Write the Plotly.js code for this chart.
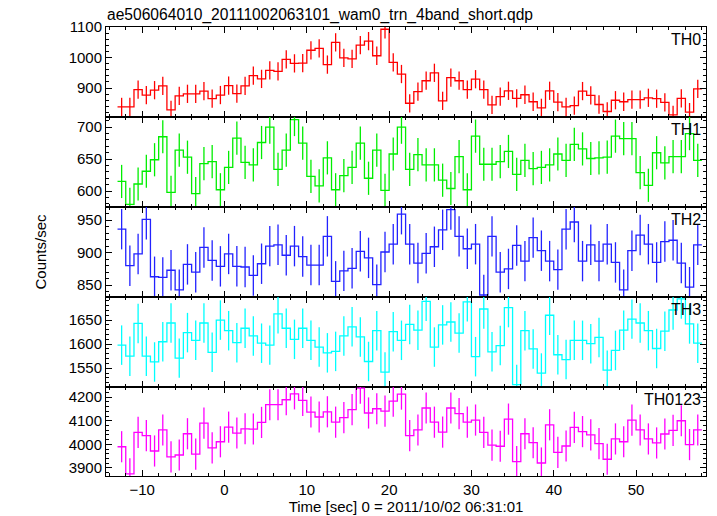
<!DOCTYPE html>
<html>
<head>
<meta charset="utf-8">
<script src="https://cdn.plot.ly/plotly-3.0.1.min.js"></script>
<style>html,body{margin:0;padding:0;background:#fff;}#chart{width:717px;height:516px;}</style>
</head>
<body>
<div id="chart"></div>
<script>
// Bin centres (sec)
const TIME = [-12.5,-11.5,-10.5,-9.5,-8.5,-7.5,-6.5,-5.5,-4.5,-3.5,-2.5,-1.5,-0.5,0.5,1.5,2.5,3.5,4.5,5.5,6.5,7.5,8.5,9.5,10.5,11.5,12.5,13.5,14.5,15.5,16.5,17.5,18.5,19.5,20.5,21.5,22.5,23.5,24.5,25.5,26.5,27.5,28.5,29.5,30.5,31.5,32.5,33.5,34.5,35.5,36.5,37.5,38.5,39.5,40.5,41.5,42.5,43.5,44.5,45.5,46.5,47.5,48.5,49.5,50.5,51.5,52.5,53.5,54.5,55.5,56.5,57.5];
const BIN_HALF = 0.5;

const TH0 = [838,838,895,877,893,907,828,874,881,881,890,865,877,908,882,907,941,930,958,955,994,981,982,1024,1030,977,1050,999,996,1041,1054,1006,1093,984,946,850,
             888,924,950,858,934,924,895,929,895,845,872,891,866,878,855,835,891,854,838,842,890,876,846,823,860,855,862,862,868,865,853,812,866,821,897];
const TH1 = [615,579,611,631,649,685,598,664,653,596,643,646,602,637,683,645,641,676,700,634,664,712,675,623,608,652,602,624,637,675,620,664,601,658,700,634,
             657,641,641,617,604,654,602,686,642,642,646,662,626,648,635,637,641,658,648,673,666,651,652,653,686,682,682,629,609,660,644,654,654,690,648];
const TH2 = [936,880,898,951,863,862,873,843,882,870,908,888,879,898,879,878,865,883,910,912,896,910,894,881,881,925,856,872,876,902,892,851,901,913,959,913,
             884,899,909,935,966,925,906,913,835,925,870,875,911,887,923,903,887,874,936,947,887,912,887,913,885,843,903,927,913,885,917,919,884,847,912];
const TH3 = [1598,1575,1643,1575,1563,1605,1644,1571,1624,1608,1644,1583,1650,1628,1603,1633,1617,1602,1598,1663,1633,1610,1633,1608,1594,1582,1585,1617,1636,1615,1564,1628,1542,1626,1608,1641,
             1629,1689,1594,1640,1646,1623,1688,1574,1673,1584,1597,1676,1516,1628,1590,1540,1660,1578,1568,1608,1608,1601,1614,1546,1587,1629,1652,1644,1628,1591,1627,1671,1694,1642,1602];
const TH0123 = [3990,3875,4051,4037,3972,4061,3947,3955,4045,3959,4090,3985,4011,4073,4048,4066,4065,4093,4168,4168,4189,4214,4186,4137,4116,4138,4094,4113,4147,4238,4133,4151,4141,4183,4213,4037,
                4061,4154,4094,4052,4154,4130,4094,4103,4051,3997,3992,4107,3927,4045,4007,3921,4083,3966,3993,4072,4054,4040,4003,3937,4023,4011,4103,4061,4023,4006,4044,4059,4100,3999,4061];

// Typical 1-sigma errors per band
const ERR = {TH0: 30, TH1: 26, TH2: 31, TH3: 41, TH0123: 66};

const LABELS = ['TH0','TH1','TH2','TH3','TH0123'];
const SERIES = [TH0, TH1, TH2, TH3, TH0123];
const COLORS = ['#ff0000','#00ee00','#2222ff','#00ffff','#ff00ff'];
const YRANGES = [[805,1100.4],[575,716],[832,970],[1511,1698],[3866,4243]];
const YDTICK = [100,50,50,50,100];
const YMINOR = [20,10,10,10,20];

const TITLE = 'ae506064010_20111002063101_wam0_trn_4band_short.qdp';
const XTITLE = 'Time [sec] 0 = 2011/10/02 06:31:01';
const YTITLE = 'Counts/sec';

const XRANGE = [-14.4, 58.5];
// panel boundaries, fraction of plot height, top to bottom
const DOMAINS = [[0.7996,1],[0.5991,0.7996],[0.3987,0.5991],[0.1982,0.3987],[0,0.1982]];

const FONT = 'Liberation Sans, Arial, Helvetica, sans-serif';
const traces = [];
const layout = {
  width: 717, height: 516,
  margin: {l: 106, r: 11, t: 27, b: 40},
  paper_bgcolor: '#fff', plot_bgcolor: '#fff',
  showlegend: false,
  font: {family: FONT, size: 15, color: '#000'},
  title: {text: TITLE, x: 107/717, xanchor: 'left', y: 1 - 15/516, yanchor: 'middle', font: {family: FONT, size: 15.6, color: '#000'}},
  annotations: [],
};

SERIES.forEach((vals, i) => {
  const n = i + 1;
  const xa = 'x' + (n === 1 ? '' : n), ya = 'y' + (n === 1 ? '' : n);
  // step line: edges built from bin centres
  const sx = TIME.map(t => t - BIN_HALF).concat([TIME[TIME.length - 1] + BIN_HALF]);
  const sy = vals.concat([vals[vals.length - 1]]);
  traces.push({x: sx, y: sy, xaxis: xa, yaxis: ya, type: 'scatter', mode: 'lines',
    line: {shape: 'hv', color: COLORS[i], width: 1.3}, hoverinfo: 'skip'});
  traces.push({x: TIME, y: vals, xaxis: xa, yaxis: ya, type: 'scatter', mode: 'markers',
    marker: {size: 1, color: COLORS[i], opacity: 0},
    error_y: {type: 'constant', value: ERR[LABELS[i]], color: COLORS[i], thickness: 1.3, width: 0}});

  const axBase = {ticks: 'inside', mirror: 'ticks', showline: true, linecolor: '#000', linewidth: 1,
    tickcolor: '#000', tickwidth: 1, showgrid: false, zeroline: false, fixedrange: true,
    tickfont: {family: FONT, size: 15, color: '#000'}};
  layout['xaxis' + (n === 1 ? '' : n)] = Object.assign({}, axBase, {
    anchor: ya, domain: [0, 1], range: XRANGE, dtick: 10, tick0: 0, ticklen: 6,
    minor: {dtick: 2, ticks: 'inside', ticklen: 3, tickcolor: '#000', showgrid: false},
    showticklabels: n === 5,
    matches: n === 1 ? undefined : 'x',
    title: n === 5 ? {text: XTITLE, font: {family: FONT, size: 15, color: '#000'}, standoff: 3} : undefined
  });
  layout['yaxis' + (n === 1 ? '' : n)] = Object.assign({}, axBase, {
    anchor: xa, domain: DOMAINS[i], range: YRANGES[i], dtick: YDTICK[i], tick0: 0, ticklen: 6,
    minor: {dtick: YMINOR[i], ticks: 'inside', ticklen: 3, tickcolor: '#000', showgrid: false}
  });
  layout.annotations.push({text: LABELS[i], xref: 'paper', yref: 'paper', x: 1, y: DOMAINS[i][1],
    xanchor: 'right', yanchor: 'top', xshift: -3, yshift: -2, showarrow: false,
    font: {family: FONT, size: 16, color: '#000'}});
});

layout.annotations.push({text: YTITLE, xref: 'paper', yref: 'paper', x: (40 - 106) / 600, y: 0.5,
  xanchor: 'center', yanchor: 'middle', textangle: -90, showarrow: false,
  font: {family: FONT, size: 15, color: '#000'}});

Plotly.newPlot('chart', traces, layout, {displayModeBar: false, staticPlot: true});
</script>
</body>
</html>
